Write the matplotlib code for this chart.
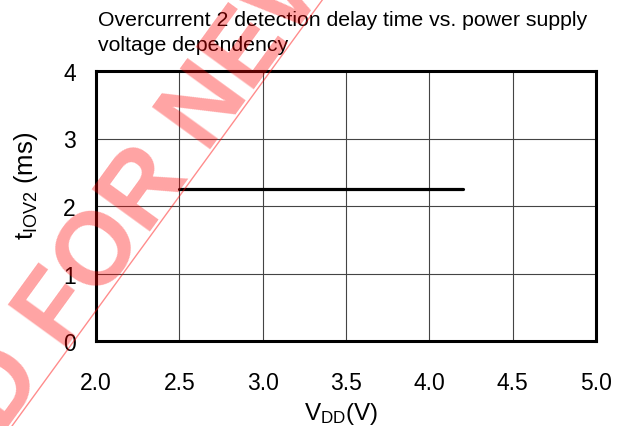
import matplotlib
matplotlib.use("Agg")
import matplotlib.pyplot as plt
import numpy as np

plt.rcParams['font.family'] = ['Liberation Sans', 'DejaVu Sans']
plt.rcParams['mathtext.fontset'] = 'custom'
plt.rcParams['mathtext.rm'] = 'Liberation Sans'
plt.rcParams['mathtext.it'] = 'Liberation Sans'

vdd = [2.5, 4.2]
t_iov2 = [2.25, 2.25]
xticks = [2.0, 2.5, 3.0, 3.5, 4.0, 4.5, 5.0]
yticks = [0, 1, 2, 3, 4]
title = "Overcurrent 2 detection delay time vs. power supply\nvoltage dependency"

W, H = 619, 427
fig = plt.figure(figsize=(6.19, 4.27), dpi=100)
ax = fig.add_axes([96/W, 1-342/H, (596-96)/W, (342-72)/H])
ax.plot(vdd, t_iov2, color='black', lw=2.3, solid_capstyle='round', zorder=3)
ax.set_xlim(2.0, 5.0)
ax.set_ylim(0, 4)
ax.set_xticks(xticks)
ax.set_xticklabels([f"{v:.1f}" for v in xticks])
ax.set_yticks(yticks)
ax.grid(True, color='#444444', lw=0.8)
for s in ax.spines.values():
    s.set_linewidth(2.2)
ax.tick_params(length=0, labelsize=16.5)
ax.tick_params(axis='x', pad=21.5)
ax.tick_params(axis='y', pad=14.5)
fig.text(341/W, 1-414/H, r"$\mathregular{V_{DD}}$(V)", fontsize=17.5, ha='center', va='center')
fig.text(26/W, 1-186/H, r"$\mathregular{t_{IOV2}}$ (ms)", fontsize=18.5, ha='center', va='center',
         rotation=90)
fig.text(98/W, 1-11/H, title, fontsize=15.3, ha='left', va='top', linespacing=1.4)

# watermark
ang = 54
ax_pt = (190/W, 1-177/H)
fig.text(*ax_pt, "NOT RECOMMENDED FOR", fontsize=74, fontweight='bold',
         color='red', alpha=0.36, rotation=ang, rotation_mode='anchor',
         ha='right', va='baseline', zorder=10)
fig.text(*ax_pt, " NEW DESIGN", fontsize=74, fontweight='bold',
         color='red', alpha=0.36, rotation=ang, rotation_mode='anchor',
         ha='left', va='baseline', zorder=10)
fig.add_artist(plt.Line2D([12/W, 323/W], [0, 1], color='red', alpha=0.45, lw=1.0,
                          transform=fig.transFigure, zorder=10))

fig.savefig("out.png", dpi=100)
